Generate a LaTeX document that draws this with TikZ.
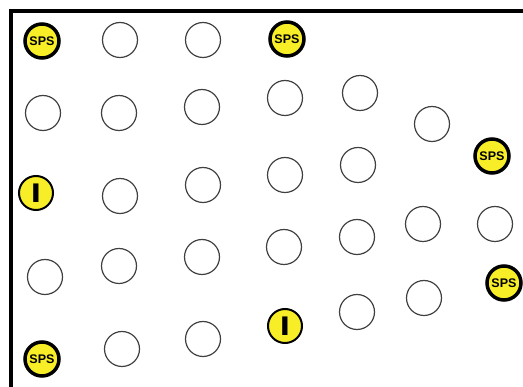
\documentclass[tikz,border=0pt]{standalone}
\usepackage{fontspec}
\setsansfont{Liberation Sans}
\definecolor{spsyellow}{RGB}{247,238,40}

\begin{document}
\begin{tikzpicture}[x=1pt, y=-1pt,
  hole/.style={circle, draw=black!75, line width=1.2pt, minimum size=35pt, inner sep=0pt},
  spsnode/.style={circle, draw=black, line width=3.5pt, fill=spsyellow, minimum size=34pt, inner sep=0pt,
    font=\sffamily\bfseries\fontsize{12.5}{12.5}\selectfont},
  inode/.style={circle, draw=black, line width=2pt, fill=spsyellow, minimum size=34pt, inner sep=0pt,
    font=\sffamily\bfseries\fontsize{27}{27}\selectfont}]
  \useasboundingbox (0,0) rectangle (523,387);
  % Frame (top and left edges)
  \draw[line width=3.5pt] (523,11) -- (11,11) -- (11,387);
  % Empty positions
  \foreach \n/\x/\y in {1/120/40, 2/203/40,
      3/43/113, 4/119/113, 5/202/107, 6/285/98, 7/360/93, 8/432/124,
      9/120/196, 10/203/185, 11/285/175, 12/358/165,
      13/45/277, 14/119/266, 15/202/257, 16/284/247, 17/357/237, 18/423/224, 19/495/224,
      20/122/349, 21/203/339, 22/357/312, 23/424/298}
    {\node[hole] (h\n) at (\x,\y) {};}
  % SPS positions
  \node[spsnode] (sps1) at (42,41) {SPS};
  \node[spsnode] (sps2) at (287,39) {SPS};
  \node[spsnode] (sps3) at (492,156) {SPS};
  \node[spsnode] (sps4) at (504,283) {SPS};
  \node[spsnode] (sps5) at (42,359) {SPS};
  % I positions
  \node[inode] (i1) at (36,193) {\scalebox{1.35}[1]{I}};
  \node[inode] (i2) at (285,326) {\scalebox{1.35}[1]{I}};
\end{tikzpicture}
\end{document}
